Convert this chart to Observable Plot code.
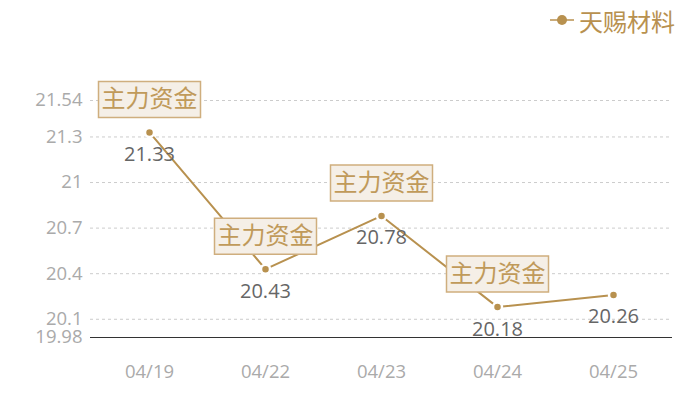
<!DOCTYPE html>
<html>
<head>
<meta charset="utf-8">
<script src="https://cdn.jsdelivr.net/npm/d3@7"></script>
<script src="https://cdn.jsdelivr.net/npm/@observablehq/plot@0.6"></script>
<style>
  html, body { margin: 0; padding: 0; background: #fff; }
  #legend { height: 40px; display: flex; justify-content: flex-end; align-items: center; padding-right: 25px; box-sizing: border-box; font-family: "Noto Sans CJK SC", sans-serif; font-size: 24px; color: #b8914f; }
  #legend svg { margin-right: 5px; }
</style>
</head>
<body>
<div id="legend"><svg width="24" height="12"><line x1="0" y1="6" x2="24" y2="6" stroke="#b8914f" stroke-width="1.5"/><circle cx="12" cy="6" r="5" fill="#b8914f"/></svg><span>天赐材料</span></div>
<div id="chart"></div>
<script>
const seriesName = "天赐材料";
const dates = ["04/19", "04/22", "04/23", "04/24", "04/25"];
const prices = [21.33, 20.43, 20.78, 20.18, 20.26];
const annotated = [true, true, true, true, false];
const annotationText = "主力资金";
const yTicks = [19.98, 20.1, 20.4, 20.7, 21, 21.3, 21.54];
const yMin = 19.98, yMax = 21.54;

const data = dates.map((d, i) => ({date: d, price: prices[i], ann: annotated[i]}));
const annData = data.filter(d => d.ann);

const boxSymbol = { draw(ctx, size) { ctx.rect(-51, -18, 102, 36); } };
const gold = "#b8914f";

const plot = Plot.plot({
  width: 700,
  height: 360,
  marginLeft: 90,
  marginRight: 28,
  marginTop: 60,
  marginBottom: 63,
  style: { fontFamily: "'Open Sans', 'Noto Sans CJK SC', sans-serif", background: "transparent" },
  x: { domain: dates, type: "point", padding: 0.5, label: null },
  y: { domain: [yMin, yMax], ticks: yTicks, label: null },
  marks: [
    Plot.ruleY(yTicks.filter(t => t !== yMin), { stroke: "#cccccc", strokeDasharray: "3,3", strokeWidth: 1 }),
    Plot.ruleY([yMin], { stroke: "#333333", strokeWidth: 1.2 }),
    Plot.axisY({ ticks: yTicks, tickSize: 0, tickPadding: 8, fontSize: 18.5, color: "#aaaaaa", tickFormat: d => String(d), label: null }),
    Plot.axisX({ tickSize: 0, tickPadding: 27, fontSize: 18.5, color: "#aaaaaa", label: null }),
    Plot.line(data, { x: "date", y: "price", stroke: gold, strokeWidth: 2 }),
    Plot.dot(data, { x: "date", y: "price", r: 4.5, fill: gold, stroke: "#fff", strokeWidth: 2.5 }),
    Plot.text(data, { x: "date", y: "price", text: d => d.price.toFixed(2), dy: 22, fontSize: 20, fill: "#666666" }),
    Plot.dot(annData, { x: "date", y: "price", symbol: boxSymbol, r: 10, dy: -33, fill: "#f5efe7", stroke: "#cfae7e", strokeWidth: 1.5 }),
    Plot.text(annData, { x: "date", y: "price", text: () => annotationText, dy: -33, fontSize: 24, fill: "#c09a5a", fontFamily: "'Noto Sans CJK SC', sans-serif" })
  ]
});
document.getElementById("chart").appendChild(plot);
</script>
</body>
</html>
